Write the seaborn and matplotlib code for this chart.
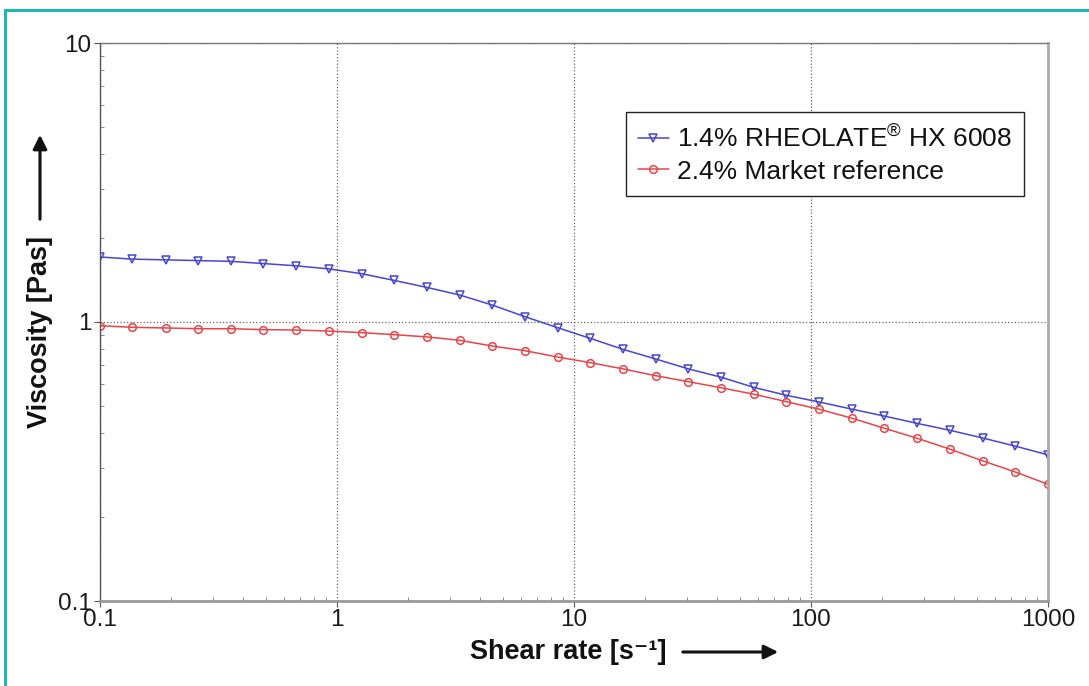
import numpy as np
import pandas as pd
import seaborn as sns
import matplotlib
matplotlib.use("Agg")
import matplotlib.pyplot as plt
from matplotlib.patches import Rectangle, FancyArrowPatch
from matplotlib.ticker import LogLocator, NullFormatter, FixedLocator, FixedFormatter

# Shear rate steps [1/s]
shear_rate = [0.1, 0.137, 0.189, 0.259, 0.356, 0.489, 0.672, 0.924, 1.27, 1.74,
              2.40, 3.29, 4.52, 6.21, 8.53, 11.7, 16.1, 22.1, 30.4, 41.8,
              57.4, 78.8, 108, 149, 204, 281, 386, 530, 728, 1000]

# Viscosity [Pas]
visc_rheolate = [1.71, 1.68, 1.67, 1.66, 1.65, 1.62, 1.59, 1.55, 1.49, 1.41,
                 1.33, 1.25, 1.15, 1.045, 0.954, 0.874, 0.798, 0.737, 0.679, 0.634,
                 0.583, 0.546, 0.517, 0.487, 0.460, 0.433, 0.409, 0.384, 0.359, 0.334]
visc_market = [0.970, 0.957, 0.952, 0.946, 0.946, 0.939, 0.936, 0.928, 0.916, 0.901,
               0.884, 0.860, 0.820, 0.789, 0.749, 0.715, 0.679, 0.642, 0.611, 0.581,
               0.551, 0.518, 0.487, 0.452, 0.416, 0.383, 0.350, 0.318, 0.290, 0.262]

series_names = ["1.4% RHEOLATE$^{\\mathregular{\u00ae}}$ HX 6008", "2.4% Market reference"]
x_ticks = [0.1, 1, 10, 100, 1000]
x_tick_labels = ["0.1", "1", "10", "100", "1000"]
y_ticks = [0.1, 1, 10]
y_tick_labels = ["0.1", "1", "10"]

df = pd.DataFrame({
    "rate": shear_rate * 2,
    "visc": visc_rheolate + visc_market,
    "sample": [series_names[0]] * len(shear_rate) + [series_names[1]] * len(shear_rate),
})

sns.set_theme(style="white")
plt.rcParams["font.family"] = ["Liberation Sans", "DejaVu Sans"]
plt.rcParams["mathtext.fontset"] = "custom"
plt.rcParams["mathtext.rm"] = "Liberation Sans"
plt.rcParams["mathtext.bf"] = "Liberation Sans:bold"

W, H = 1089, 686
fig = plt.figure(figsize=(W / 100, H / 100), dpi=100)
fig.patch.set_facecolor("white")

# Teal frame around the figure
fig.patches.append(Rectangle((5 / W, -0.05), 1.2, 1 - 10 / H + 0.05,
                             transform=fig.transFigure, fill=False,
                             edgecolor="#1fb7ae", linewidth=2.2, zorder=0))

ax = fig.add_axes([100 / W, 1 - 601 / H, (1048 - 100) / W, (601 - 43) / H])

palette = {series_names[0]: "#4646d2", series_names[1]: "#ea4448"}
markers = {series_names[0]: "v", series_names[1]: "o"}
sns.lineplot(data=df, x="rate", y="visc", hue="sample", style="sample",
             palette=palette, markers=markers, dashes=False,
             markersize=5.5, markerfacecolor="none", markeredgewidth=1.1,
             linewidth=1.1, ax=ax, legend=True)
for ln in ax.lines:
    ln.set_markeredgecolor(ln.get_color())
    ln.set_markerfacecolor("none")

ax.set_xscale("log")
ax.set_yscale("log")
ax.set_xlim(0.1, 1000)
ax.set_ylim(0.1, 10)

ax.xaxis.set_major_locator(FixedLocator(x_ticks))
ax.xaxis.set_major_formatter(FixedFormatter(x_tick_labels))
ax.yaxis.set_major_locator(FixedLocator(y_ticks))
ax.yaxis.set_major_formatter(FixedFormatter(y_tick_labels))
ax.xaxis.set_minor_locator(LogLocator(base=10, subs=np.arange(2, 10), numticks=20))
ax.yaxis.set_minor_locator(LogLocator(base=10, subs=np.arange(2, 10), numticks=20))
ax.xaxis.set_minor_formatter(NullFormatter())
ax.yaxis.set_minor_formatter(NullFormatter())

ax.tick_params(which="major", direction="out", length=4, width=0.8,
               color="#555555", labelsize=17.5, labelcolor="#1a1a1a",
               left=True, bottom=True, pad=2)
ax.tick_params(which="minor", direction="in", length=3, width=0.7,
               color="#888888", left=True, bottom=True)

ax.grid(True, which="major", linestyle=":", linewidth=0.9, color="#666666")
ax.grid(False, which="minor")

ax.spines["top"].set_color("#777777")
ax.spines["top"].set_linewidth(1.0)
ax.spines["left"].set_color("#555555")
ax.spines["left"].set_linewidth(1.0)
ax.spines["right"].set_color("#aaaaaa")
ax.spines["right"].set_linewidth(2.0)
ax.spines["bottom"].set_color("#999999")
ax.spines["bottom"].set_linewidth(2.0)

ax.set_xlabel("")
ax.set_ylabel("")

leg = ax.legend(loc="upper right",
                bbox_to_anchor=((1024 - 100) / (1048 - 100), 1 - (112 - 43) / (601 - 43)),
                frameon=True, fancybox=False, framealpha=1, edgecolor="#222222",
                fontsize=19, handlelength=1.2, handletextpad=0.3,
                borderpad=0.45, labelspacing=0.3, borderaxespad=0)
leg.get_frame().set_linewidth(1.0)
for t in leg.get_texts():
    t.set_color("#111111")

# Axis titles with direction arrows
fig.text(470 / W, 1 - 652 / H, "Shear rate [s\u207b\u00b9]", fontsize=19.5,
         fontweight="bold", ha="left", va="center", color="#111111")
fig.patches.append(FancyArrowPatch(
    (680 / W, 1 - 652 / H), (781 / W, 1 - 652 / H), transform=fig.transFigure,
    arrowstyle="-|>,head_length=0.6,head_width=0.3", mutation_scale=14,
    linewidth=2.2, color="#111111"))

fig.text(40 / W, 1 - 332 / H, "Viscosity [Pas]", fontsize=19.5, fontweight="bold",
         rotation=90, ha="center", va="center", color="#111111")
fig.patches.append(FancyArrowPatch(
    (40 / W, 1 - 222 / H), (40 / W, 1 - 132 / H), transform=fig.transFigure,
    arrowstyle="-|>,head_length=0.6,head_width=0.3", mutation_scale=14,
    linewidth=2.2, color="#111111"))

fig.savefig("out.png", dpi=100, facecolor="white")
